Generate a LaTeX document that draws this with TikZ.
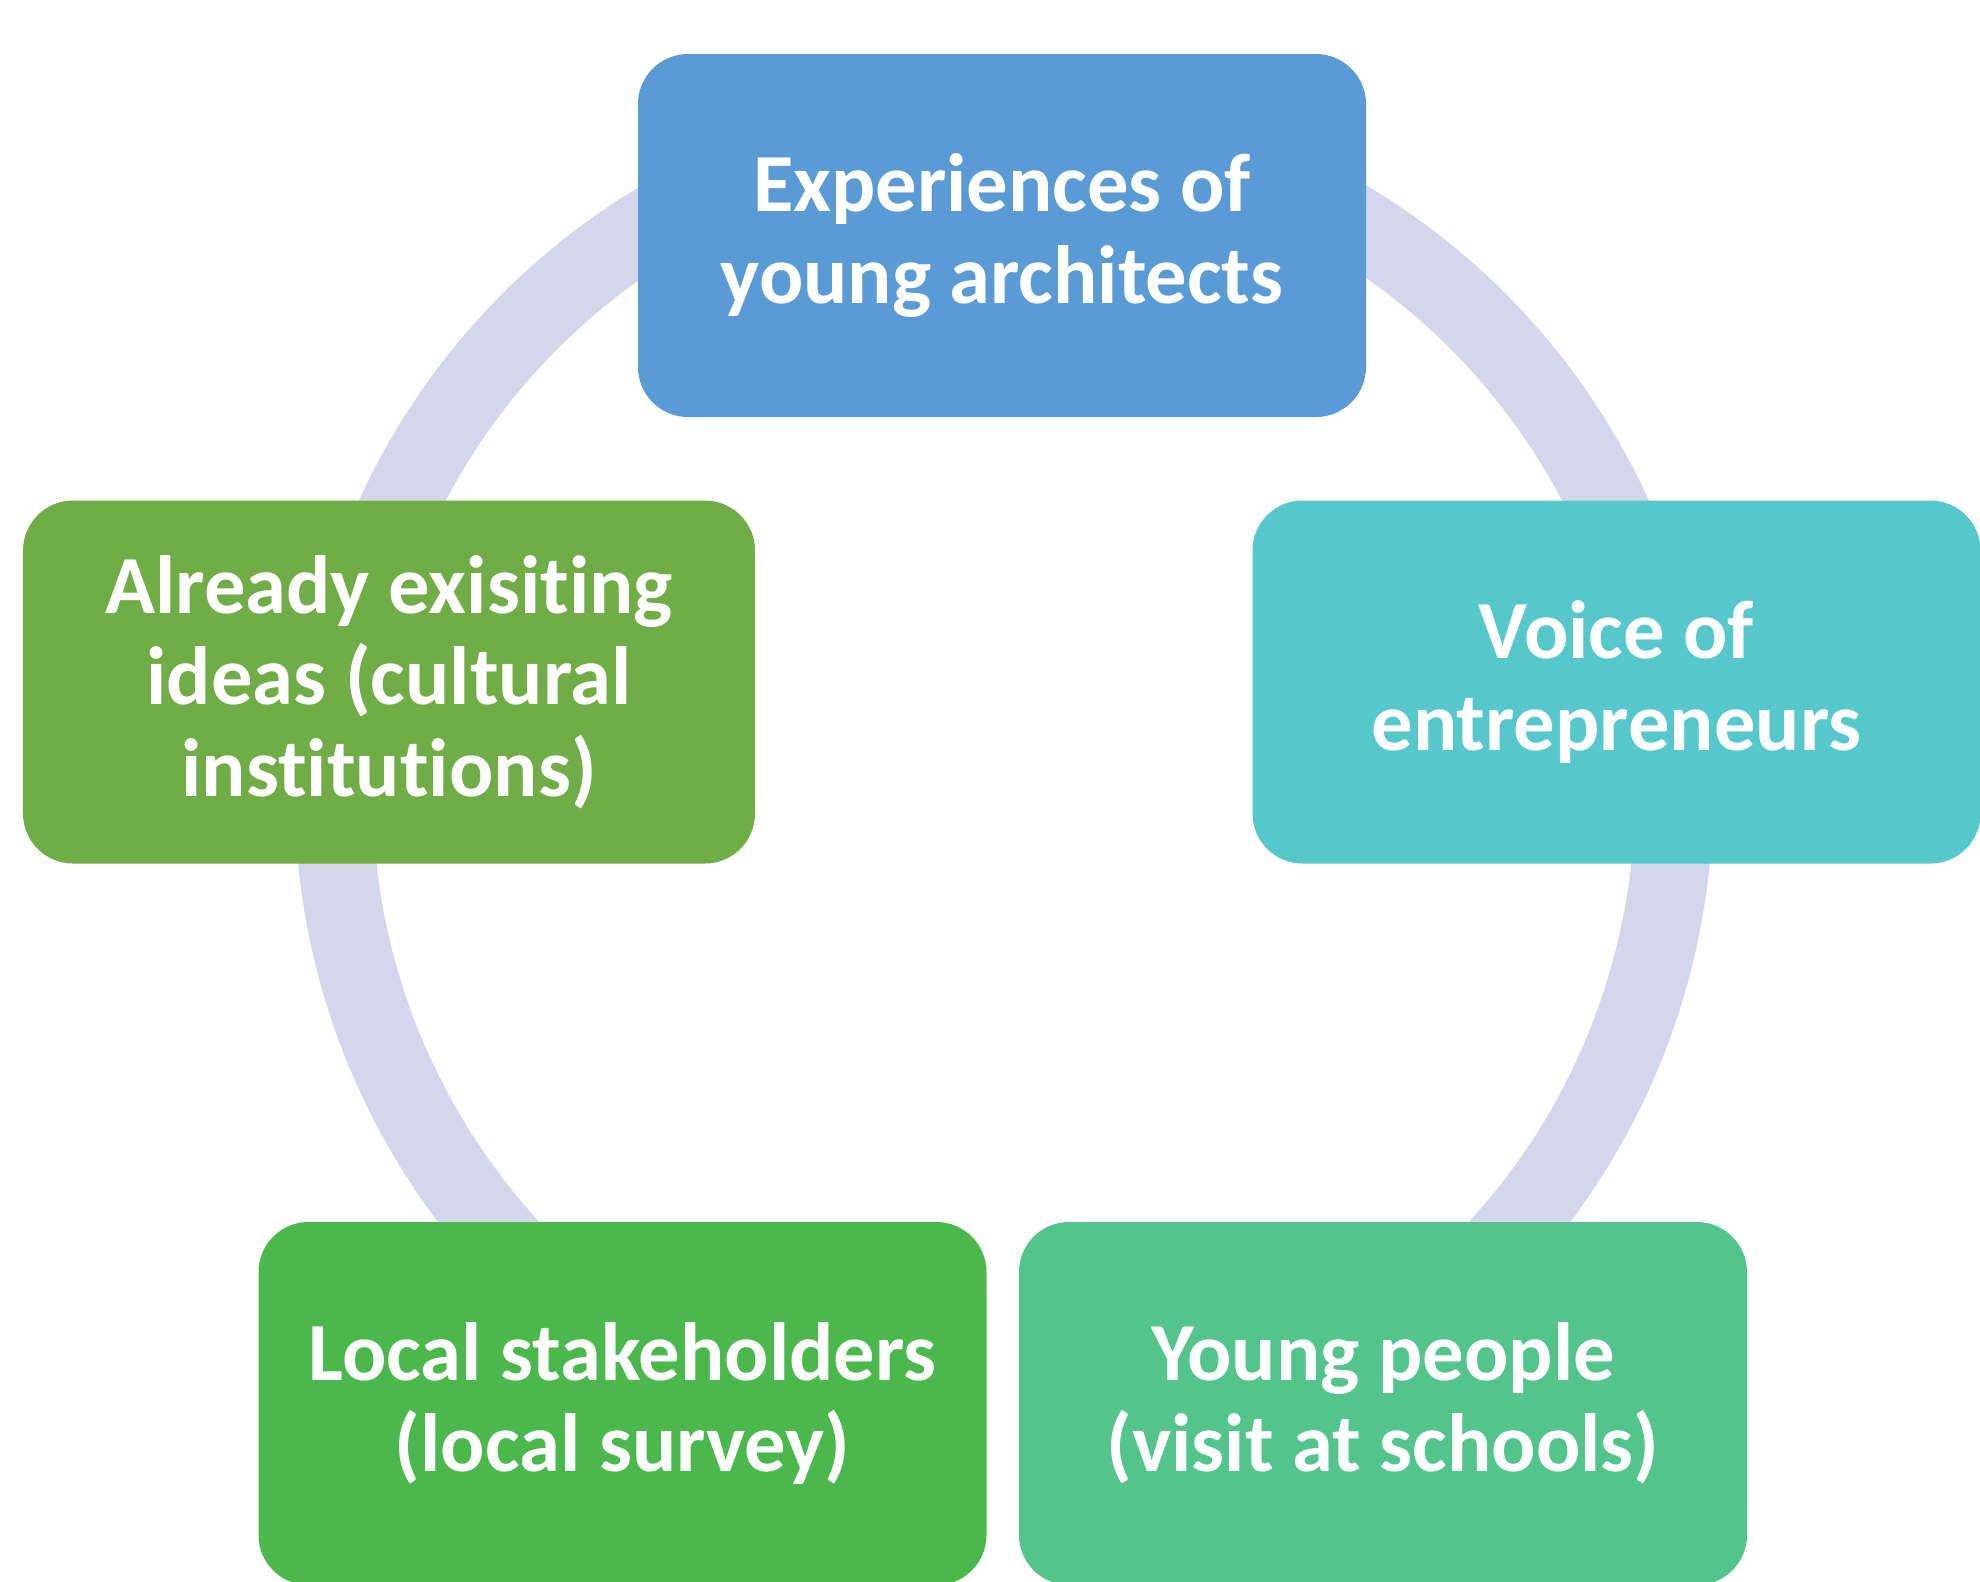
\documentclass[tikz,border=0pt]{standalone}
\usepackage{fontspec}
\setmainfont{Carlito}[Ligatures=NoCommon]
\definecolor{archblue}{RGB}{91,155,213}
\definecolor{voiceteal}{RGB}{86,200,204}
\definecolor{ideagreen}{RGB}{112,173,71}
\definecolor{localgreen}{RGB}{74,184,76}
\definecolor{youthgreen}{RGB}{82,196,140}
\definecolor{ringlilac}{RGB}{212,214,236}
\usetikzlibrary{positioning}

\begin{document}
\begin{tikzpicture}[
    inputbox/.style={rounded corners=0.5cm, minimum width=7.28cm,
      minimum height=3.63cm, align=center, text=white,
      font=\fontsize{23.5}{26}\selectfont\bfseries, inner sep=0pt}
  ]
  \useasboundingbox (0,0) rectangle (19.8,-15.81);
  % ring behind the boxes, open between the two bottom boxes
  \draw[ringlilac, line width=0.78cm] (10.04,-7.95) ++(-60:6.70)
    arc[start angle=-60, end angle=240, radius=6.70];
  % the five inputs
  \node[inputbox, fill=archblue] (exper) at (10.02,-2.355)
    {Experiences of\\young architects};
  \node[inputbox, fill=voiceteal] (voice) at (16.165,-6.82)
    {Voice of\\entrepreneurs};
  \node[inputbox, fill=ideagreen, minimum width=7.32cm] (ideas) at (3.89,-6.82)
    {Already exisiting\\ideas (cultural\\institutions)};
  \node[inputbox, fill=localgreen] (local) at (6.225,-14.035)
    {Local stakeholders\\(local survey)};
  \node[inputbox, fill=youthgreen] (young) at (13.83,-14.035)
    {Young people\\(visit at schools)};
\end{tikzpicture}
\end{document}
